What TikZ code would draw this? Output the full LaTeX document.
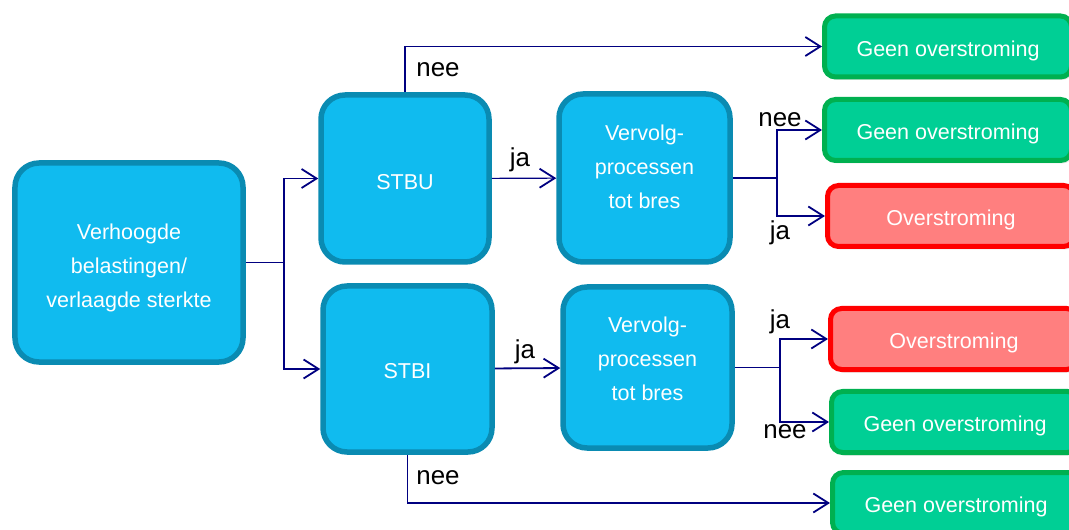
\documentclass[tikz,border=0pt]{standalone}
\usepackage{fontspec}
\setmainfont{Liberation Sans}
\usetikzlibrary{arrows.meta,shadows}
\definecolor{boxblue}{HTML}{10BBEF}
\definecolor{edgeblue}{HTML}{0A8BB2}
\definecolor{boxgreen}{HTML}{00CF95}
\definecolor{edgegreen}{HTML}{00B050}
\definecolor{boxred}{HTML}{FF7F7F}
\definecolor{edgered}{HTML}{FF0000}
\definecolor{arrnavy}{HTML}{000080}
\tikzset{
	arr/.style={-{Straight Barb[length=15bp,width=19bp,line width=1.8bp]},draw=arrnavy,line width=1.8bp},
	thinarr/.style={arr,line width=1.1bp},
	line/.style={draw=arrnavy,line width=1.8bp},
	proc/.style={rectangle,rounded corners=24bp,draw=edgeblue,fill=boxblue,line width=5.5bp,
		text=white,align=center,font=\fontsize{21.6}{34}\selectfont,inner sep=0pt},
	uitkomst/.style={rectangle,rounded corners=11bp,line width=5bp,minimum width=247bp,
		minimum height=61bp,text=white,font=\fontsize{21.6}{25}\selectfont,inner sep=0pt,
		text height=24bp,text depth=4.5bp,
		drop shadow={opacity=0.2,shadow xshift=2bp,shadow yshift=-3bp}},
	geen/.style={uitkomst,draw=edgegreen,fill=boxgreen},
	over/.style={uitkomst,draw=edgered,fill=boxred},
	lbl/.style={font=\fontsize{26}{30}\selectfont,inner sep=0pt}
}
\begin{document}
\begin{tikzpicture}[x=1bp,y=-1bp]
	\useasboundingbox (0,0) rectangle (1069,530);
	
	% linker kolom
	\node[proc,minimum width=228bp,minimum height=199bp,text height=94bp] (main) at (129,262.5) {Verhoogde\\belastingen/\\verlaagde sterkte};
	
	% mechanismen
	\node[proc,minimum width=168bp,minimum height=167bp,text height=23bp] (stbu) at (405,178.5) {STBU};
	\node[proc,minimum width=169bp,minimum height=166bp,text height=19bp] (stbi) at (407.5,369) {STBI};
	\node[proc,minimum width=171bp,minimum height=168bp,text depth=22bp] (vvu) at (644.5,178) {Vervolg-\\processen\\tot bres};
	\node[proc,minimum width=169bp,minimum height=161bp,text depth=18bp] (vvi) at (647.5,367.5) {Vervolg-\\processen\\tot bres};
	
	% uitkomsten
	\node[geen] (gu1) at (948,46.5) {Geen overstroming};
	\node[geen] (gu2) at (948,130) {Geen overstroming};
	\node[over] (ou) at (951,216) {Overstroming};
	\node[over] (oi) at (954,339) {Overstroming};
	\node[geen] (gi1) at (955,422) {Geen overstroming};
	\node[geen] (gi2) at (956,503) {Geen overstroming};
	
	% splitsingen
	\coordinate (sp1) at (284,262.5);
	\coordinate (sp2) at (777,178);
	\coordinate (sp3) at (780,367.5);
	
	\path[line] (main.east) -- (sp1);
	\path[arr] (sp1) |- (stbu.west);
	\path[arr] (sp1) |- (stbi.west);
	
	\path[arr] (stbu.north) |- (gu1.west);
	\path[thinarr] (stbu) -- (vvu);
	\path[arr] (stbi.south) |- (gi2.west);
	\path[arr] (stbi) -- (vvi);
	
	\path[line] (vvu.east) -- (sp2);
	\path[arr] (sp2) |- (gu2.west);
	\path[arr] (sp2) |- (ou.west);
	\path[line] (vvi.east) -- (sp3);
	\path[arr] (sp3) |- (oi.west);
	\path[arr] (sp3) |- (gi1.west);
	
	% labels
	\node[lbl] (nee1) at (438,70) {nee};
	\node[lbl] (ja1) at (520,160) {ja};
	\node[lbl] (nee2) at (780,120) {nee};
	\node[lbl] (ja2) at (780,233) {ja};
	\node[lbl] (ja3) at (525,352) {ja};
	\node[lbl] (ja4) at (780,322) {ja};
	\node[lbl] (nee3) at (785,432) {nee};
	\node[lbl] (nee4) at (438,478) {nee};
\end{tikzpicture}
\end{document}
